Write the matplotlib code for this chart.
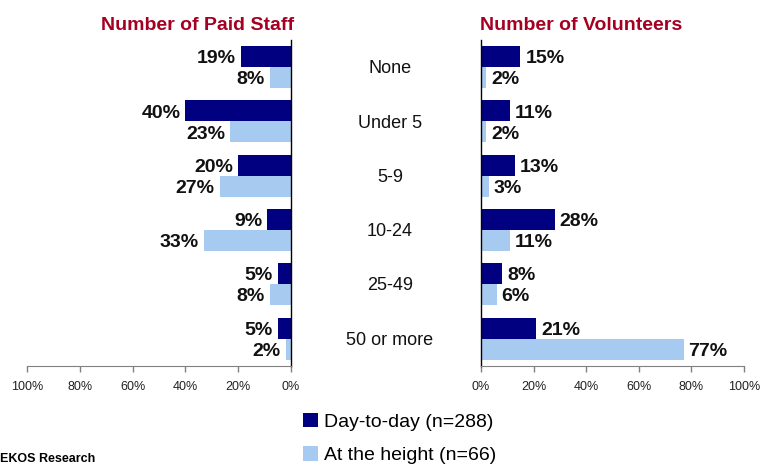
import numpy as np
import matplotlib
matplotlib.use("Agg")
import matplotlib.pyplot as plt
from matplotlib.patches import Patch
from matplotlib.transforms import blended_transform_factory

plt.rcParams['font.family'] = ['Liberation Sans', 'DejaVu Sans']

# data
categories = ["None", "Under 5", "5-9", "10-24", "25-49", "50 or more"]
paid_daily = [19, 40, 20, 9, 5, 5]
paid_height = [8, 23, 27, 33, 8, 2]
vol_daily = [15, 11, 13, 28, 8, 21]
vol_height = [2, 2, 3, 11, 6, 77]
ticks = [0, 20, 40, 60, 80, 100]
tick_labels = ["0%", "20%", "40%", "60%", "80%", "100%"]
legend_labels = ["Day-to-day (n=288)", "At the height (n=66)"]

dark = "#000080"
light = "#A6CAF0"
red = "#A50021"

W, H = 760, 467
fig = plt.figure(figsize=(W / 100, H / 100), dpi=100)

bottom = 1 - 365.7 / H
top = 1 - 40 / H
ax_l = fig.add_axes([27 / W, bottom, 264 / W, top - bottom])
ax_r = fig.add_axes([481 / W, bottom, 263 / W, top - bottom])

y = np.arange(len(categories))
bh = 0.387


def draw_panel(ax, daily, height, side):
    ax.barh(y - bh / 2, daily, height=bh, color=dark)
    ax.barh(y + bh / 2, height, height=bh, color=light)
    sign = -1 if side == "left" else 1
    ha = "right" if side == "left" else "left"
    for vals, off in ((daily, -bh / 2), (height, bh / 2)):
        for i, v in enumerate(vals):
            ax.annotate(f"{v}%", (v, i + off), xytext=(sign * 3.5, -1.5),
                        textcoords="offset points", ha=ha, va="center",
                        fontsize=14, fontweight="bold", color="#111111")
    ax.set_ylim(len(categories) - 0.5, -0.5)
    ax.set_yticks([])
    ax.set_xticks(ticks)
    ax.set_xticklabels(tick_labels)
    ax.tick_params(axis="x", length=4, width=1, color="#808080",
                   labelsize=9, labelcolor="#222222", pad=7)
    for s in ["top", "left", "right"]:
        ax.spines[s].set_visible(False)
    ax.spines["bottom"].set_color("#808080")
    vs = "right" if side == "left" else "left"
    ax.spines[vs].set_visible(True)
    ax.spines[vs].set_color("black")
    ax.spines[vs].set_linewidth(1)


draw_panel(ax_l, paid_daily, paid_height, "left")
ax_l.set_xlim(100, 0)
draw_panel(ax_r, vol_daily, vol_height, "right")
ax_r.set_xlim(0, 100)

# titles
fig.text(197.5 / W, 1 - 29.5 / H, "Number of Paid Staff", ha="center",
         va="baseline", fontsize=14, fontweight="bold", color=red)
fig.text(480 / W, 1 - 29.5 / H, "Number of Volunteers", ha="left",
         va="baseline", fontsize=14, fontweight="bold", color=red)

# category labels in the middle
tr = blended_transform_factory(fig.transFigure, ax_r.transData)
for i, c in enumerate(categories):
    ax_r.text(390 / W, i + 0.03, c, transform=tr, ha="center", va="center",
              fontsize=13, color="#111111")

# legend
handles = [Patch(facecolor=dark), Patch(facecolor=light)]
fig.legend(handles, legend_labels, loc="upper left",
           bbox_to_anchor=(289 / W, 1 - 399 / H), frameon=False,
           fontsize=14, handlelength=0.78, handleheight=0.78,
           handletextpad=0.3, labelspacing=0.8, borderpad=0.2)

fig.text(0.0, 1.5 / H, "EKOS Research", ha="left", va="bottom",
         fontsize=9, fontweight="bold")

fig.savefig("out.png", dpi=100)
